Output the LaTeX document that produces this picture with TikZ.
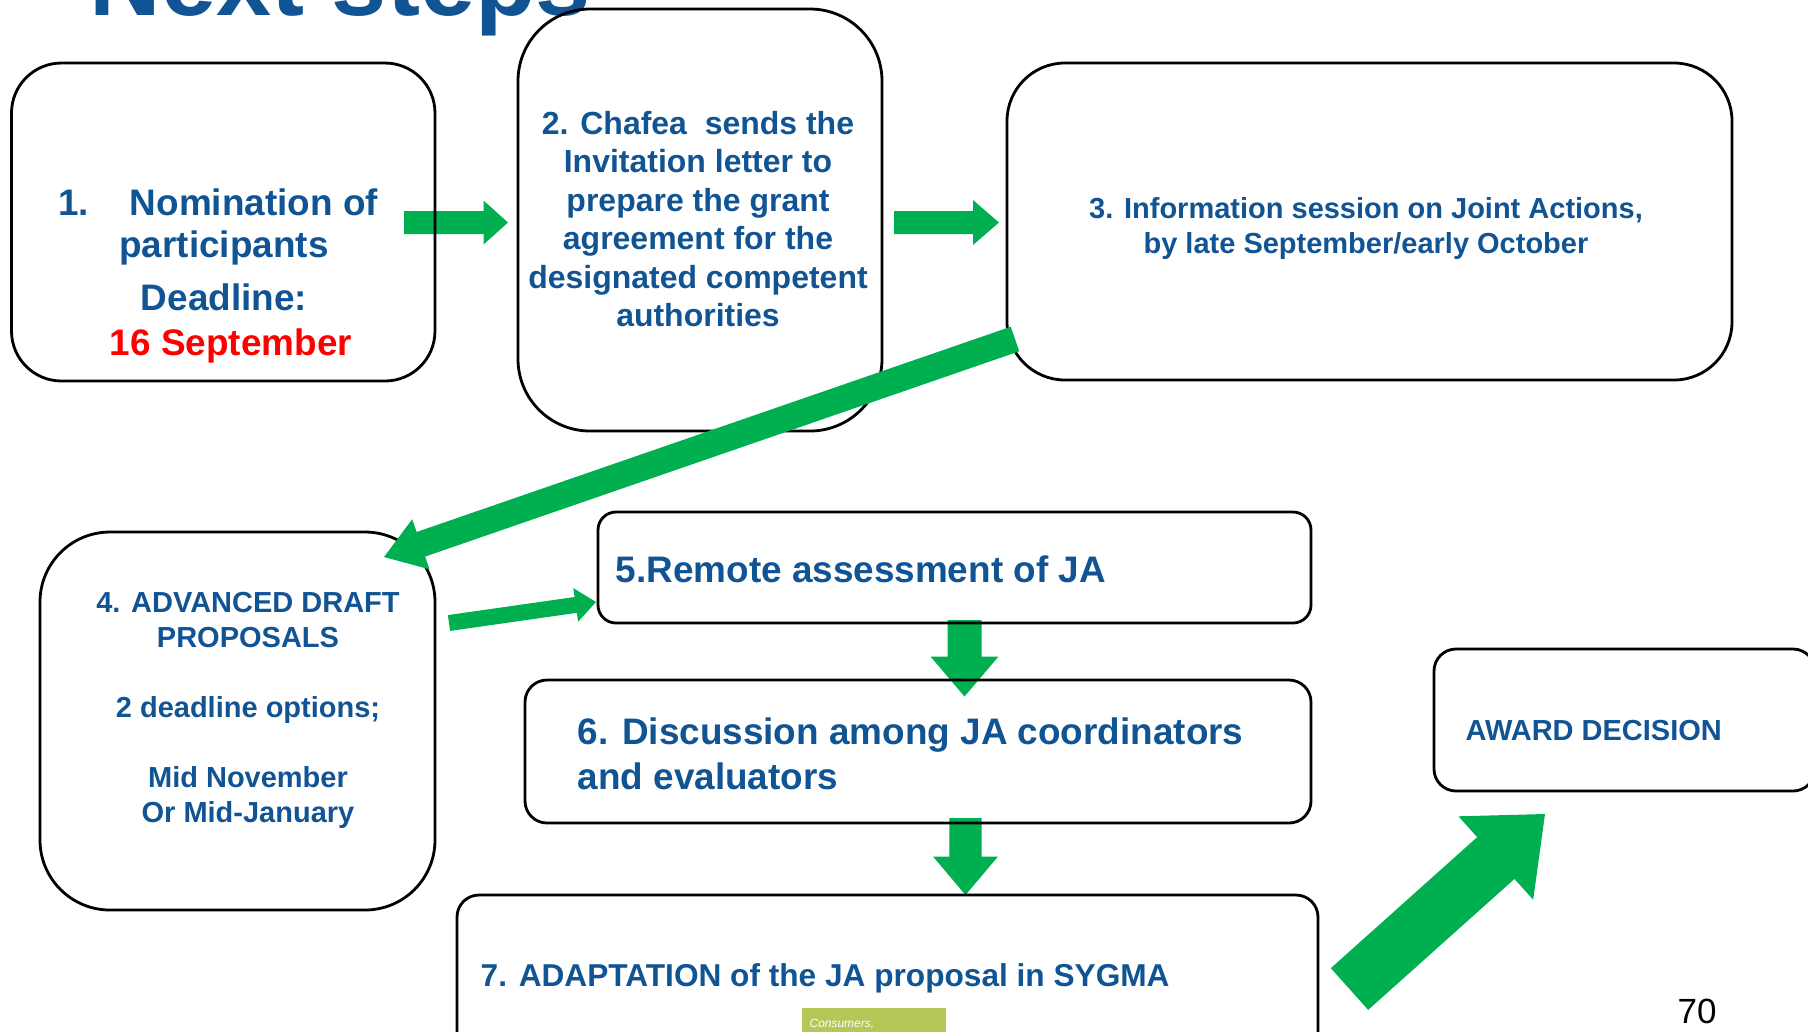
\documentclass[tikz,border=0pt]{standalone}
\usepackage{fontspec}
\setmainfont{Liberation Sans}
\usepackage{xcolor}
\usepackage{tikz}
\usetikzlibrary{calc}
\usetikzlibrary{positioning}

\definecolor{stepblue}{RGB}{17,84,148}
\definecolor{arrowgreen}{RGB}{0,176,80}
\definecolor{leafgreen}{RGB}{179,200,88}

% block arrow: tail, tip, half shaft, half head, head length
\newcommand{\blockarrow}[5]{%
	\coordinate (hb) at ($(#2)!#5!(#1)$);
	\fill[arrowgreen] ($(#1)!#3!90:(#2)$) -- ($(hb)!#3!90:(#2)$) -- ($(hb)!#4!90:(#2)$) -- (#2)
		-- ($(hb)!#4!-90:(#2)$) -- ($(hb)!#3!-90:(#2)$) -- ($(#1)!#3!-90:(#2)$) -- cycle;
}

\tikzset{
	stepbox/.style={draw, line width=0.8pt, rounded corners=#1, inner sep=0pt},
	steptext/.style={text=stepblue, align=center, inner sep=0pt},
}

\begin{document}
\begin{tikzpicture}[x=0.1mm,y=-0.1mm]
		\useasboundingbox (0,0) rectangle (1808,1031);
		\clip (0,0) rectangle (1808,1031);
		\node[anchor=base west,inner sep=0pt,text=stepblue,font=\fontsize{28.2}{30}\selectfont\bfseries] (title) at (89,15) {Next steps};
		% arrow ends
		\coordinate (a12s) at (404,222.5);
		\coordinate (a12e) at (508,222.5);
		\coordinate (a23s) at (894,222.5);
		\coordinate (a23e) at (999,222.5);
		\coordinate (a34s) at (1015,339);
		\coordinate (a34e) at (384,557);
		\coordinate (a45s) at (449,623);
		\coordinate (a45e) at (596,602);
		\coordinate (a56s) at (964.5,620);
		\coordinate (a56e) at (964.5,696.5);
		\coordinate (a67s) at (965.5,818);
		\coordinate (a67e) at (965.5,895);
		\coordinate (a7as) at (1349.5,989);
		\coordinate (a7ae) at (1545,814);
		\blockarrow{a12s}{a12e}{1.15mm}{2.2mm}{2.45mm}
		\blockarrow{a23s}{a23e}{1.15mm}{2.25mm}{2.6mm}
		\blockarrow{a45s}{a45e}{0.8mm}{1.7mm}{2.05mm}
		\blockarrow{a56s}{a56e}{1.7mm}{3.4mm}{4mm}
		\blockarrow{a67s}{a67e}{1.62mm}{3.25mm}{3.85mm}
		\blockarrow{a7as}{a7ae}{2.8mm}{5.6mm}{6.6mm}
		% boxes
		\node[stepbox=5mm,minimum width=42.35mm,minimum height=31.8mm] (b1) at (223.25,222) {};
		\node[stepbox=7.2mm,minimum width=36.4mm,minimum height=42.2mm] (b2) at (700,220) {};
		\node[stepbox=5.8mm,minimum width=72.5mm,minimum height=31.7mm] (b3) at (1369.5,221.5) {};
		\node[stepbox=7mm,minimum width=39.5mm,minimum height=37.8mm] (b4) at (237.5,721) {};
		\node[stepbox=1.8mm,minimum width=71.3mm,minimum height=11.1mm] (b5) at (954.5,567.5) {};
		\node[stepbox=2.2mm,minimum width=78.6mm,minimum height=14.3mm] (b6) at (918,751.5) {};
		\node[stepbox=2.2mm,minimum width=86.1mm,minimum height=16.5mm] (b7) at (887.5,977.5) {};
		\node[stepbox=2.2mm,minimum width=38.1mm,minimum height=14.2mm] (award) at (1624.5,720) {};
		% texts
		\node[steptext,font=\fontsize{10.5}{11.95}\selectfont\bfseries] (t1) at (224,275.5)
			{1.\hspace{4.1mm}Nomination of\hspace{1.2mm}\mbox{}\\participants\\[1.1mm]Deadline:\\[0.3mm]\hspace{1.4mm}\textcolor{red}{16 September}};
		\node[steptext,font=\fontsize{9.1}{10.95}\selectfont\bfseries] (t2) at (698,219)
			{2. Chafea~~sends the\\Invitation letter to\\prepare the grant\\agreement for the\\designated competent\\authorities};
		\node[steptext,font=\fontsize{8.25}{9.96}\selectfont\bfseries] (t3) at (1366,228)
			{3. Information session on Joint Actions,\\by late September/early October};
		\node[steptext,font=\fontsize{8.25}{9.96}\selectfont\bfseries] (t4) at (248,710.5)
			{4. ADVANCED DRAFT\\PROPOSALS\\[3.5mm]2 deadline options;\\[3.5mm]Mid November\\Or Mid-January};
		\node[steptext,anchor=base west,font=\fontsize{10.5}{12}\selectfont\bfseries] (t5) at (615,582)
			{5.Remote assessment of JA};
		\node[steptext,align=left,anchor=west,font=\fontsize{10.5}{12.8}\selectfont\bfseries] (t6) at (577,754)
			{6. Discussion among JA coordinators\\and evaluators};
		\node[steptext,anchor=base west,font=\fontsize{9}{11}\selectfont\bfseries] (t7) at (480,986)
			{7. ADAPTATION of the JA proposal in SYGMA};
		\node[steptext,anchor=base west,font=\fontsize{8.25}{10}\selectfont\bfseries] (ta) at (1465,740)
			{AWARD DECISION};
		% diagonal arrow over the boxes
		\blockarrow{a34s}{a34e}{1.3mm}{2.65mm}{3.9mm}
		% footer
		\node[fill=leafgreen,inner sep=0pt,anchor=north west,minimum width=14.4mm,minimum height=4mm] (logo) at (801,1007) {};
		\node[anchor=base west,inner sep=0pt,text=white,font=\fontsize{3.4}{4}\selectfont\itshape] (logotext) at (809,1027) {Consumers,};
		\node[anchor=base west,inner sep=0pt,font=\fontsize{9.96}{12}\selectfont] (page) at (1677,1023) {70};
\end{tikzpicture}
\end{document}
